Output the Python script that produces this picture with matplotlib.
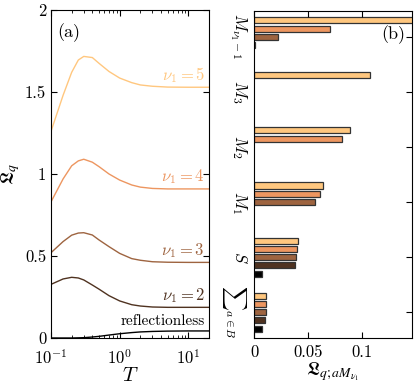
import numpy as np
import matplotlib
matplotlib.use("Agg")
import matplotlib.pyplot as plt
from matplotlib import cm

plt.rcParams["font.family"] = "serif"
plt.rcParams["font.serif"] = ["cmr10", "DejaVu Serif"]
plt.rcParams["mathtext.fontset"] = "cm"
plt.rcParams["axes.formatter.use_mathtext"] = True
plt.rcParams["axes.unicode_minus"] = False

# -----------------------------
# (a) data: L_q vs temperature
# -----------------------------
T = [0.1, 0.15, 0.2, 0.25, 0.3, 0.4, 0.5, 0.7, 1.0, 1.5, 2.0, 3.0, 5.0, 10.0, 20.0]
L_nu5 = [1.26, 1.48, 1.62, 1.695, 1.717, 1.71, 1.675, 1.625, 1.585, 1.557, 1.543, 1.535, 1.53, 1.529, 1.529]
L_nu4 = [0.83, 0.97, 1.05, 1.08, 1.09, 1.072, 1.045, 1.0, 0.963, 0.933, 0.92, 0.912, 0.909, 0.909, 0.909]
L_nu3 = [0.52, 0.588, 0.627, 0.64, 0.642, 0.628, 0.598, 0.557, 0.516, 0.484, 0.474, 0.465, 0.462, 0.461, 0.461]
L_nu2 = [0.327, 0.36, 0.37, 0.366, 0.354, 0.323, 0.298, 0.258, 0.226, 0.203, 0.195, 0.189, 0.187, 0.187, 0.187]
L_refl = [0.0, 0.0, 0.0, 0.001, 0.002, 0.006, 0.01, 0.018, 0.026, 0.033, 0.037, 0.04, 0.042, 0.043, 0.043]

# -----------------------------
# (b) data: contributions per channel
# -----------------------------
groups = [r"$M_{\nu_1-1}$", r"$M_3$", r"$M_2$", r"$M_1$", r"$S$", r"$\sum{}_{a\in B}$"]
nus = [5, 4, 3, 2, 1]
# values per group, ordered nu1 = 5, 4, 3, 2, 1 (None = no bar)
contrib = {
    r"$M_{\nu_1-1}$": [0.15, 0.0704, 0.022, 0.001, None],
    r"$M_3$": [0.107, None, None, None, None],
    r"$M_2$": [0.0889, 0.0815, None, None, None],
    r"$M_1$": [0.0633, 0.061, 0.0565, None, None],
    r"$S$": [0.0404, 0.0398, 0.0389, 0.0377, 0.0071],
    r"$\sum{}_{a\in B}$": [0.0114, 0.0111, 0.0108, 0.0099, 0.0077],
}

colors = {nu: cm.copper((nu - 1) / 4) for nu in nus}

fig = plt.figure(figsize=(4.15, 3.86), dpi=100)
ax1 = fig.add_axes([51 / 415, 1 - 338 / 386, 158 / 415, 328 / 386])
ax2 = fig.add_axes([254 / 415, 1 - 338 / 386, 158 / 415, 327 / 386])

# -----------------------------
# panel (a)
# -----------------------------
curves = [(5, L_nu5), (4, L_nu4), (3, L_nu3), (2, L_nu2)]
for nu, vals in curves:
    ax1.plot(T, vals, color=colors[nu], lw=1.0)
    ax1.text(17.5, vals[-1] + 0.015, rf"$\nu_1={nu}$", color=colors[nu],
             ha="right", va="bottom", fontsize=12)
ax1.plot(T, L_refl, color="black", lw=1.0)
ax1.text(17.5, L_refl[-1] + 0.02, "reflectionless", color="black",
         ha="right", va="bottom", fontsize=11)

ax1.set_xscale("log")
ax1.set_xlim(0.1, 20)
ax1.set_ylim(0, 2)
ax1.set_yticks([0, 0.5, 1, 1.5, 2])
ax1.set_yticklabels(["0", "0.5", "1", "1.5", "2"])
ax1.set_xlabel(r"$T$", fontsize=15, labelpad=0)
ax1.set_ylabel(r"$\mathfrak{L}_q$", fontsize=14, labelpad=2, math_fontfamily="stix")
ax1.text(0.04, 0.96, "(a)", transform=ax1.transAxes, ha="left", va="top", fontsize=13)
ax1.tick_params(which="both", direction="in", top=True, right=True, labelsize=12)
ax1.tick_params(axis="x", pad=7)
ax1.tick_params(which="major", length=4)
ax1.tick_params(which="minor", length=2)

# -----------------------------
# panel (b)
# -----------------------------
step = 0.15
height = 0.11
for gi, g in enumerate(groups):
    center = len(groups) - gi
    for k, nu in enumerate(nus):
        v = contrib[g][k]
        if v is None:
            continue
        y = center + (2 - k) * step
        ax2.barh(y, v, height=height, color=colors[nu],
                 edgecolor="#333333", linewidth=0.9)

ax2.set_xlim(0, 0.146)
ax2.set_ylim(0.53, 6.47)
ax2.set_xticks([0, 0.05, 0.1])
ax2.set_xticklabels(["0", "0.05", "0.1"])
ax2.set_yticks(range(len(groups), 0, -1))
ax2.set_yticklabels(groups, rotation=270, va="center", fontsize=13)
ax2.set_xlabel(r"$\mathfrak{L}_{q;aM_{\nu_1}}$", fontsize=14, labelpad=0,
               math_fontfamily="stix")
ax2.text(0.96, 0.955, "(b)", transform=ax2.transAxes, ha="right", va="top", fontsize=13)
ax2.tick_params(which="both", direction="in", top=True, right=True, labelsize=12)
ax2.tick_params(axis="x", pad=5)
ax2.tick_params(axis="y", left=False, pad=4)
ax2.tick_params(which="major", length=4)

fig.savefig("out.png", dpi=100)
